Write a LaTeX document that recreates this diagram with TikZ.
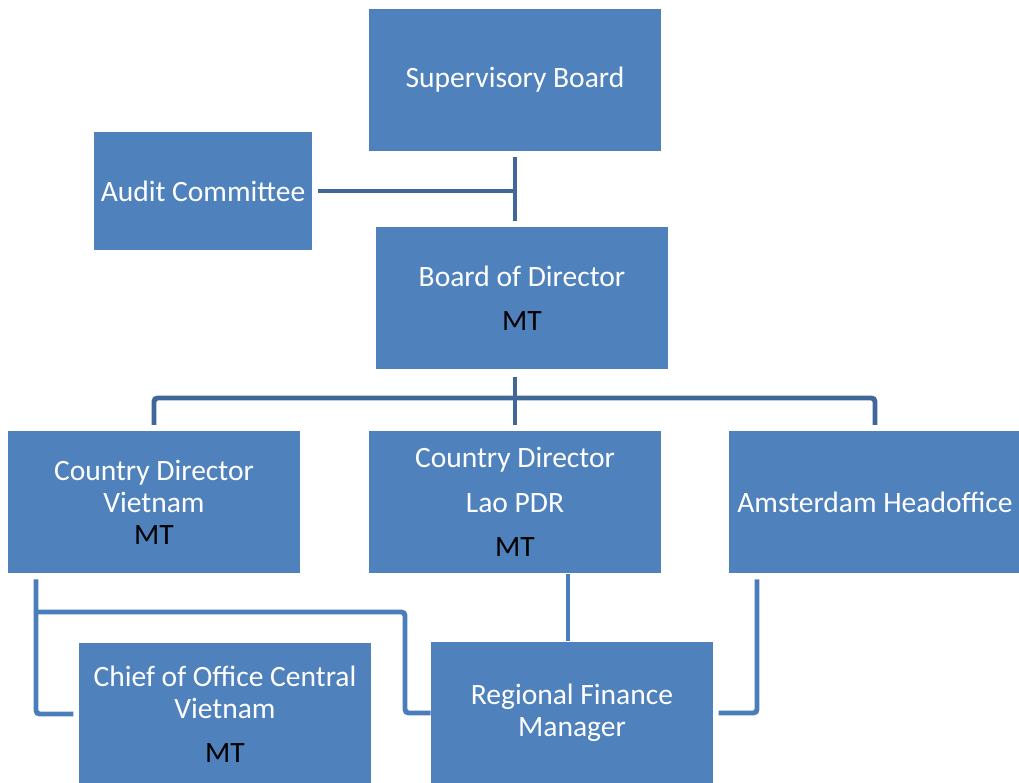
\documentclass[tikz,border=0pt]{standalone}
\usepackage{fontspec}
\setmainfont{Carlito}
\definecolor{boxblue}{HTML}{4F81BD}
\definecolor{linkblue}{HTML}{4A7EBB}
\definecolor{darklink}{HTML}{3F6797}
\tikzstyle{orgbox} = [
	rectangle,
	minimum width=5.84cm,
	minimum height=2.86cm,
	inner sep=0pt,
	text centered,
	align=center,
	fill=boxblue,
	text=white,
	font=\fontsize{16.8}{18.2}\selectfont
]
\tikzstyle{smallbox} = [
	orgbox,
	minimum width=4.36cm,
	minimum height=2.36cm
]
\tikzstyle{link} = [line width=2.8pt, draw=linkblue, rounded corners=2pt]
\tikzstyle{toplink} = [link, draw=darklink]
\begin{document}
\begin{tikzpicture}[x=0.02cm, y=-0.02cm]

		\useasboundingbox (0,0) rectangle (1019,783);
		\fill [white] (0,0) rectangle (1019,783);
		\clip (0,0) rectangle (1019,783);

		\node (supervisoryboard) [orgbox] at (515,80) {Supervisory Board};
		\node (auditcommittee) [smallbox] at (203,191) {Audit Committee};
		\node (boardofdirector) [orgbox] at (522,298) {Board of Director\\[7pt]\textcolor{black}{MT}};

		\node (cdvietnam) [orgbox] at (154,502) {Country Director\\Vietnam\\\textcolor{black}{MT}};
		\node (cdlao) [orgbox] at (515,502) {Country Director\\[7pt]Lao PDR\\[7pt]\textcolor{black}{MT}};
		\node (amsterdam) [orgbox] at (875,502) {Amsterdam Headoffice};

		\node (chiefoffice) [orgbox] at (225,714) {Chief of Office Central\\Vietnam\\[7pt]\textcolor{black}{MT}};
		\node (financemanager) [orgbox, minimum width=5.64cm] at (572,713) {Regional Finance\\Manager};

		\coordinate (split) at (515,398);
		\coordinate (vnout) at (36,574);
		\coordinate (vnbranch) at (36,612);
		\coordinate (rfmturn) at (405,612);
		\coordinate (laoout) at (568,574);
		\coordinate (amout) at (757,574);

		\draw [toplink, shorten <=3pt, shorten >=3pt] (supervisoryboard.south) -- (supervisoryboard.south |- boardofdirector.north);
		\draw [toplink, shorten <=3pt] (auditcommittee.east) -- (supervisoryboard.south |- auditcommittee.east);

		\draw [toplink, shorten <=4pt, shorten >=3pt] (boardofdirector.south -| cdlao.north) -- (cdlao.north);
		\draw [toplink, shorten <=3pt, shorten >=3pt] (cdvietnam.north) |- (split) -| (amsterdam.north);

		\draw [link, shorten <=3pt, shorten >=3pt] (vnout) |- (chiefoffice.west);
		\draw [link] (vnbranch) -- (rfmturn) |- (financemanager.west);
		\draw [link] (laoout) -- (laoout |- financemanager.north);
		\draw [link, shorten <=3pt, shorten >=3pt] (amout) |- (financemanager.east);

	\end{tikzpicture}
\end{document}
